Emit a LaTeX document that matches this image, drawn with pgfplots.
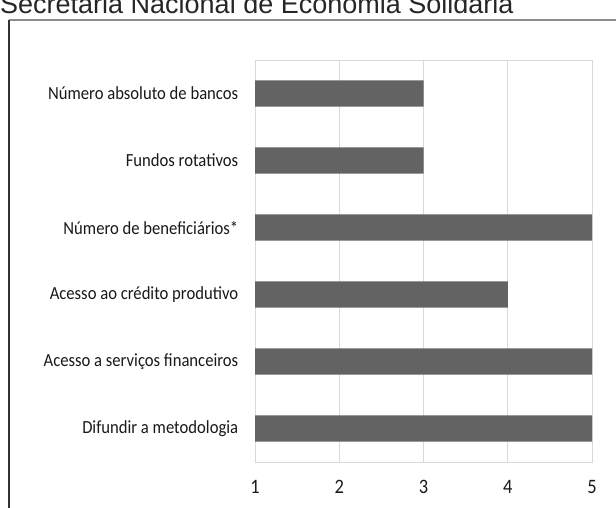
\documentclass[border=0pt]{standalone}
\usepackage{fontspec}
\setmainfont{Carlito}[FakeStretch=0.9]
\newfontfamily\arialfont{Liberation Sans}
\usepackage{pgfplots}
\pgfplotsset{compat=1.18}

\definecolor{barfill}{HTML}{636363}
\definecolor{gridgray}{HTML}{D9D9D9}
\definecolor{framegray}{HTML}{8C8C8C}

\begin{document}
\begin{tikzpicture}
\useasboundingbox (0,0) rectangle (616bp,508bp);
\clip (0,0) rectangle (616bp,508bp);

% cut-off heading and frame of the source page
\node[anchor=base west, inner sep=0pt, font=\arialfont\fontsize{27bp}{31bp}\selectfont, text=black!85]
  at (0bp,494bp) {Secretaria Nacional de Economia Solidária};
\draw[framegray, line width=1.5bp] (8.5bp,488bp) -- (616bp,488bp);
\draw[black!80, line width=1.5bp] (9bp,488bp) -- (9bp,0bp);

\begin{axis}[
    at={(255bp,46bp)}, anchor=south west,
    scale only axis,
    width=337bp, height=402bp,
    xbar, bar width=0.39,
    xmin=1, xmax=5,
    ymin=-0.5, ymax=5.5,
    xtick={1,2,3,4,5},
    ytick={0,1,2,3,4,5},
    yticklabels={Difundir a metodologia, Acesso a serviços financeiros, Acesso ao crédito produtivo, Número de beneficiários*, Fundos rotativos, Número absoluto de bancos},
    tick style={draw=none},
    axis line style={gridgray, line width=1bp},
    xmajorgrids, major grid style={gridgray, line width=1bp},
    ticklabel style={font=\fontsize{18.5bp}{21bp}\selectfont, text=black!90},
    xticklabel style={font=\fontsize{20.5bp}{23bp}\selectfont, yshift=-15bp},
    yticklabel style={xshift=-9bp},
    /pgf/number format/assume math mode=true,
]
\addplot[fill=barfill, draw=none] coordinates {
    (5,0)
    (5,1)
    (4,2)
    (5,3)
    (3,4)
    (3,5)
};
\end{axis}
\end{tikzpicture}
\end{document}
